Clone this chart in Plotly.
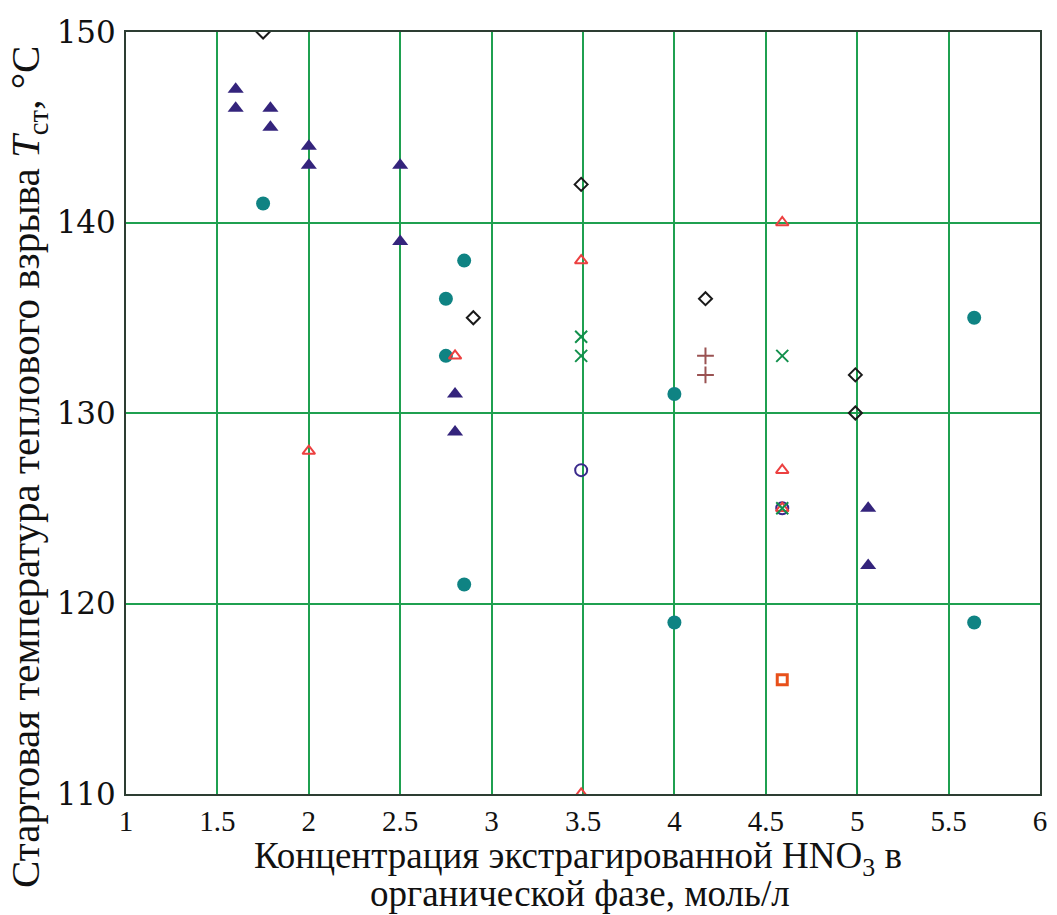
import plotly.graph_objects as go

# Series data (x: HNO3 concentration, mol/L; y: start temperature, °C)
blue_tri_x = [1.6, 1.6, 1.79, 1.79, 2.0, 2.0, 2.5, 2.5, 2.8, 2.8, 5.06, 5.06]
blue_tri_y = [147, 146, 146, 145, 144, 143, 143, 139, 131, 129, 125, 122]

teal_x = [1.75, 2.85, 2.75, 2.75, 2.85, 4.0, 4.0, 5.64, 5.64]
teal_y = [141, 138, 136, 133, 121, 131, 119, 135, 119]

diamond_x = [1.75, 3.49, 2.9, 4.17, 4.99, 4.99]
diamond_y = [150, 142, 135, 136, 132, 130]

red_tri_x = [2.0, 2.8, 3.49, 3.49, 4.59, 4.59, 4.59]
red_tri_y = [128, 133, 138, 110, 140, 127, 125]

green_x_x = [3.49, 3.49, 4.59, 4.59]
green_x_y = [134, 133, 133, 125]

plus_x = [4.17, 4.17]
plus_y = [133, 132]

circle_x = [3.49, 4.59]
circle_y = [127, 125]

square_x = [4.59]
square_y = [116]

x_ticks = [1, 1.5, 2, 2.5, 3, 3.5, 4, 4.5, 5, 5.5, 6]
x_tick_labels = ["1", "1.5", "2", "2.5", "3", "3.5", "4", "4.5", "5", "5.5", "6"]
y_ticks = [110, 120, 130, 140, 150]

x_title_1 = "Концентрация экстрагированной HNO<sub>3</sub> в"
x_title_2 = "органической фазе, моль/л"
y_title = "Стартовая температура теплового взрыва <i>T</i><sub>ст</sub>, °C"

W, H = 1057, 915
L, R, T, B = 126, 17, 32, 121
pw, ph = W - L - R, H - T - B

fig = go.Figure()

def add(x, y, symbol, color, size, lw=0, fill=True):
    fig.add_trace(go.Scatter(
        x=x, y=y, mode="markers", showlegend=False,
        marker=dict(symbol=symbol, size=size,
                    color=color if fill else "rgba(0,0,0,0)",
                    line=dict(color=color, width=lw)),
    ))

add(teal_x, teal_y, "circle", "#0f8383", 14)
add(blue_tri_x, blue_tri_y, "triangle-up", "#34247c", 14)
add(diamond_x, diamond_y, "diamond-open", "#1a1a1a", 10, lw=2)
add(circle_x, circle_y, "circle-open", "#3a2a8c", 12, lw=2)
add(red_tri_x, red_tri_y, "triangle-up-open", "#ec4040", 11, lw=2)
add(green_x_x, green_x_y, "x-thin-open", "#12904c", 12, lw=2)
add(plus_x, plus_y, "cross-thin-open", "#9a5252", 12, lw=2)
add(square_x, square_y, "square-open", "#e8501a", 10, lw=3)

grid_color = "#1fa050"
frame_color = "#2d3d33"

def px_x(p):
    return (p - L) / pw

def px_y(p):
    return (H - B - p) / ph

fig.update_layout(
    width=W, height=H,
    margin=dict(l=L, r=R, t=T, b=B),
    paper_bgcolor="white", plot_bgcolor="white",
    font=dict(family="Liberation Serif", color="#111111"),
    xaxis=dict(
        range=[1, 6], tickmode="array", tickvals=x_ticks, ticktext=x_tick_labels,
        showgrid=True, gridcolor=grid_color, gridwidth=2,
        showline=True, linecolor=frame_color, linewidth=2, mirror=True,
        zeroline=False, ticks="", automargin=False,
        tickfont=dict(family="Liberation Serif", size=29),
        ticklabelstandoff=0,
    ),
    yaxis=dict(
        range=[110, 150], tickmode="array", tickvals=y_ticks,
        showgrid=True, gridcolor=grid_color, gridwidth=2,
        showline=True, linecolor=frame_color, linewidth=2, mirror=True,
        zeroline=False, ticks="", automargin=False,
        tickfont=dict(family="DejaVu Serif", size=31),
        ticklabelstandoff=2,
    ),
    annotations=[
        dict(text=x_title_1, xref="paper", yref="paper",
             x=px_x(578), y=px_y(858), xanchor="center", yanchor="middle",
             showarrow=False, font=dict(family="Liberation Serif", size=37)),
        dict(text=x_title_2, xref="paper", yref="paper",
             x=px_x(580), y=px_y(893), xanchor="center", yanchor="middle",
             showarrow=False, font=dict(family="Liberation Serif", size=37)),
        dict(text=y_title, xref="paper", yref="paper", textangle=-90,
             x=px_x(28), y=px_y(467), xanchor="center", yanchor="middle",
             showarrow=False, font=dict(family="Liberation Serif", size=41)),
    ],
)

fig.write_html("out.html")
